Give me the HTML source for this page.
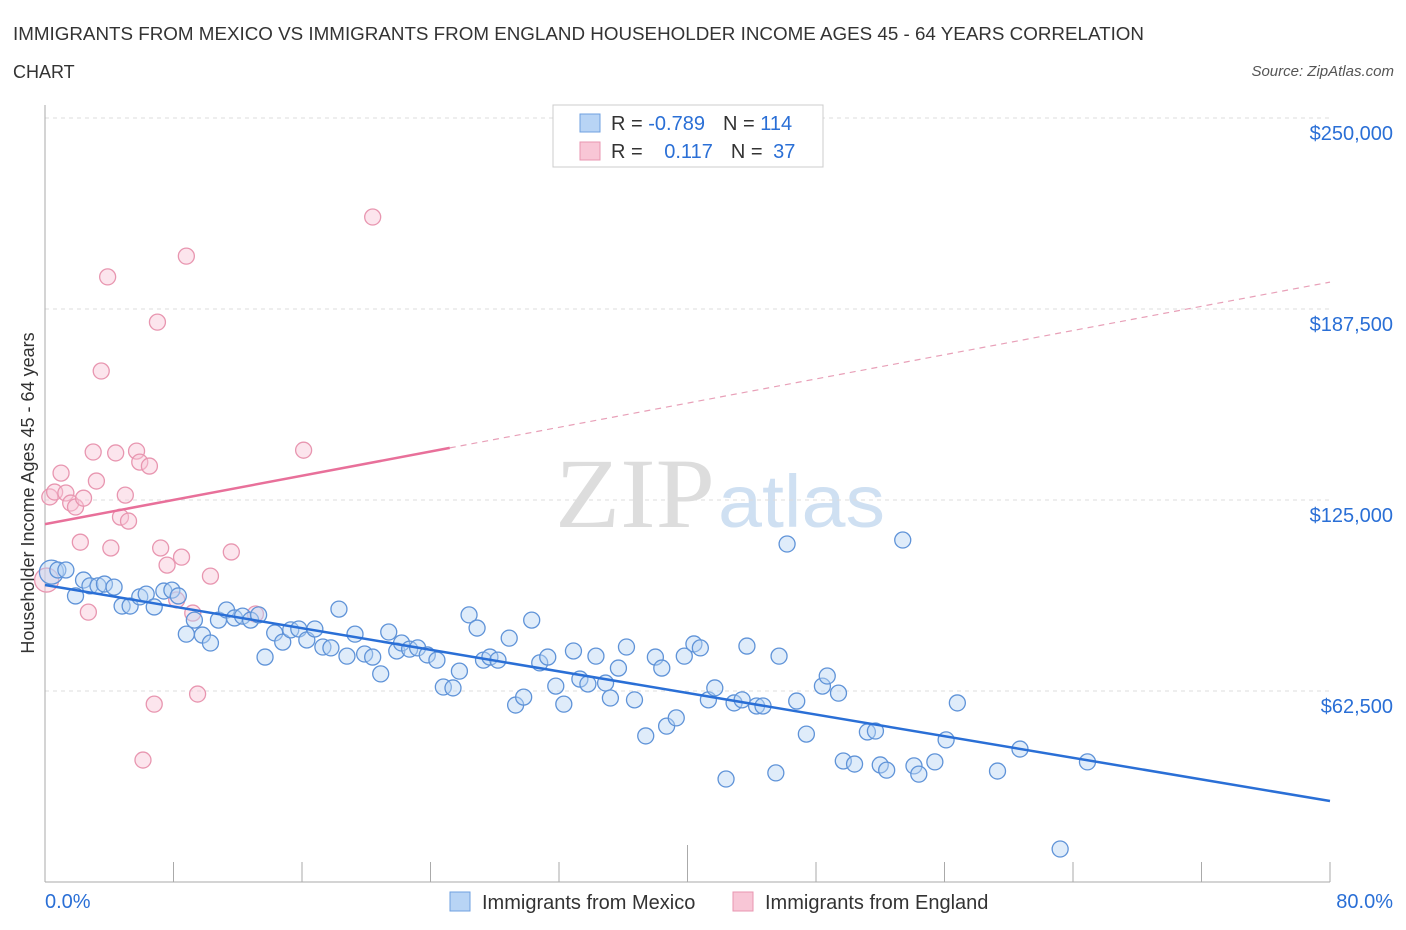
<!DOCTYPE html>
<html><head><meta charset="utf-8"><style>
body{margin:0;background:#fff;font-family:"Liberation Sans",sans-serif;}
svg{display:block}
</style></head><body>
<svg id="chart" width="1406" height="930" xmlns="http://www.w3.org/2000/svg" font-family="Liberation Sans, sans-serif">
<text x="13" y="40" font-size="18" fill="#333" textLength="1131" lengthAdjust="spacingAndGlyphs">IMMIGRANTS FROM MEXICO VS IMMIGRANTS FROM ENGLAND HOUSEHOLDER INCOME AGES 45 - 64 YEARS CORRELATION</text>
<text x="13" y="78" font-size="18" fill="#333">CHART</text>
<text x="1394" y="76" font-size="15" fill="#555" text-anchor="end" font-style="italic">Source: ZipAtlas.com</text>
<text x="715" y="527" font-size="100" fill="#ddd" text-anchor="end" font-family="Liberation Serif, serif" textLength="160" lengthAdjust="spacingAndGlyphs">ZIP</text>
<text x="718" y="527" font-size="74" fill="#cfe0f2" textLength="167" lengthAdjust="spacingAndGlyphs">atlas</text>
<g id="grid"></g>
<g id="axes"></g>
<g id="marks"></g>
<g>
<rect x="553" y="105" width="270" height="62" fill="#fff" stroke="#ccc"/>
<rect x="580" y="114" width="20" height="18" fill="#b8d4f5" stroke="#6fa0e0"/>
<rect x="580" y="142" width="20" height="18" fill="#f8c6d6" stroke="#e896b0"/>
<text x="611" y="130" font-size="20" fill="#333">R = <tspan fill="#2a6fd6">-0.789</tspan><tspan dx="18">N = </tspan><tspan fill="#2a6fd6">114</tspan></text>
<text x="611" y="158" font-size="20" fill="#333">R = <tspan dx="16" fill="#2a6fd6">0.117</tspan><tspan dx="18">N = </tspan><tspan dx="5" fill="#2a6fd6">37</tspan></text>
</g>
<g>
<rect x="450" y="892" width="20" height="19" fill="#b8d4f5" stroke="#6fa0e0"/>
<text x="482" y="909" font-size="20" fill="#333">Immigrants from Mexico</text>
<rect x="733" y="892" width="20" height="19" fill="#f8c6d6" stroke="#e896b0"/>
<text x="765" y="909" font-size="20" fill="#333">Immigrants from England</text>
</g>
</svg>
<script>
const mexX=[0.4,0.8,1.3,1.9,2.4,2.8,3.3,3.7,4.3,4.8,5.3,5.9,6.3,6.8,7.4,7.9,8.3,8.8,9.3,9.8,10.3,10.8,11.3,11.8,12.3,12.8,13.3,13.7,14.3,14.8,15.3,15.8,16.3,16.8,17.3,17.8,18.3,18.8,19.3,19.9,20.4,20.9,21.4,21.9,22.2,22.7,23.2,23.8,24.4,24.8,25.4,25.8,26.4,26.9,27.3,27.7,28.2,28.9,29.3,29.8,30.3,30.8,31.3,31.8,32.3,32.9,33.3,33.8,34.3,34.9,35.2,35.7,36.2,36.7,37.4,38.0,38.4,38.7,39.3,39.8,40.4,40.8,41.3,41.7,42.4,42.9,43.4,43.7,44.3,44.7,45.5,45.7,46.2,46.8,47.4,48.4,48.7,49.4,49.7,50.4,51.2,51.7,52.0,52.4,53.4,54.1,54.4,55.4,56.1,56.8,59.3,60.7,63.2,64.9];
const mexY=[101.4,102.1,102.1,93.6,98.8,96.9,96.9,97.5,96.5,90.3,90.3,93.3,94.2,90.0,95.2,95.5,93.6,81.1,85.7,80.8,78.2,85.7,89.0,86.4,87.0,85.7,87.4,73.6,81.5,78.5,82.5,82.8,79.2,82.8,76.9,76.6,89.3,73.9,81.1,74.6,73.6,68.1,81.8,75.6,78.2,76.2,76.6,74.3,72.6,63.8,63.5,69.0,87.4,83.1,72.6,73.6,72.6,79.8,57.9,60.5,85.7,71.7,73.6,64.1,58.2,75.6,66.4,64.8,73.9,65.1,60.2,70.0,76.9,59.6,47.8,73.6,70.0,51.0,53.7,73.9,77.9,76.6,59.6,63.5,33.7,58.6,59.6,77.2,57.6,57.6,35.7,73.9,110.6,59.2,48.4,64.1,67.4,61.8,39.6,38.6,49.1,49.4,38.3,36.6,111.9,38.0,35.3,39.3,46.5,58.6,36.3,43.5,10.8,39.3];
const engX=[0.1,0.3,0.6,1.0,1.3,1.6,1.9,2.2,2.4,2.7,3.0,3.2,3.5,3.9,4.1,4.4,4.7,5.0,5.2,5.7,5.9,6.1,6.5,6.8,7.0,7.2,7.6,8.2,8.5,8.8,9.2,9.5,10.3,11.6,13.1,16.1,20.4];
const engY=[98.8,126.0,127.6,133.8,127.3,124.0,122.7,111.2,125.6,88.3,140.7,131.2,167.2,198.0,109.3,140.4,119.4,126.6,118.1,141.0,137.4,39.9,136.1,58.2,183.2,109.3,103.7,92.3,106.3,204.8,88.0,61.5,100.1,108.0,87.7,141.3,217.6];
const mexTrend=[97.2,26.5];
const engTrend=[117.1,196.3];
const engSolidEnd=25.2;
const yTicks=[62500,125000,187500,250000];
const yTickLabels=["$62,500","$125,000","$187,500","$250,000"];
const xTicks=[0,8,16,24,32,40,48,56,64,72,80];
const NS="http://www.w3.org/2000/svg";
const xs=v=>45+v/80*1285;
const ys=v=>882-v*1000/62500*191;
function mk(tag,attrs,parent){const e=document.createElementNS(NS,tag);for(const k in attrs)e.setAttribute(k,attrs[k]);parent.appendChild(e);return e;}
const grid=document.getElementById('grid'),axes=document.getElementById('axes'),marks=document.getElementById('marks');
yTicks.forEach((t,i)=>{
 const l=mk('line',{x1:45,x2:1330,y1:ys(t/1000),y2:ys(t/1000),stroke:'#ddd','stroke-dasharray':'4,4'},grid);
 
 
 const tx=mk('text',{x:1393,y:ys(t/1000)+22,'font-size':20,fill:'#2a6fd6','text-anchor':'end'},grid);
 tx.textContent=yTickLabels[i];
 
 
});
const ya=mk('line',{x1:45,x2:45,y1:105,y2:882,stroke:'#aaa'},axes);


const xa=mk('line',{x1:45,x2:1330,y1:882,y2:882,stroke:'#aaa'},axes);


xTicks.forEach(t=>{
 const l=mk('line',{x1:xs(t),x2:xs(t),y1:t===40?845:862,y2:882,stroke:'#aaa'},axes);
 
 
});
const xl0=mk('text',{x:45,y:908,'font-size':20,fill:'#2a6fd6'},axes);xl0.textContent='0.0%';


const xl1=mk('text',{x:1393,y:908,'font-size':20,fill:'#2a6fd6','text-anchor':'end'},axes);xl1.textContent='80.0%';


const yt=mk('text',{x:0,y:0,'font-size':18,fill:'#333','text-anchor':'middle',transform:'translate(34,493) rotate(-90)'},axes);yt.textContent='Householder Income Ages 45 - 64 years';


engX.forEach((x,i)=>{
 const c=mk('circle',{cx:xs(x),cy:ys(engY[i]),r:i===0?12:8,fill:'rgba(248,198,214,0.45)',stroke:'#e896b0','stroke-width':1.3},marks);
 
 
});
mexX.forEach((x,i)=>{
 const c=mk('circle',{cx:xs(x),cy:ys(mexY[i]),r:i===0?12:8,fill:'rgba(184,212,245,0.45)',stroke:'#5f93d8','stroke-width':1.3},marks);
 
 
});
const ey=x=>engTrend[0]+(engTrend[1]-engTrend[0])*x/80;
const l1=mk('line',{x1:xs(0),y1:ys(ey(0)),x2:xs(engSolidEnd),y2:ys(ey(engSolidEnd)),stroke:'#e8709a','stroke-width':2.5},marks);


const l2=mk('line',{x1:xs(engSolidEnd),y1:ys(ey(engSolidEnd)),x2:xs(80),y2:ys(ey(80)),stroke:'#e8a0b8','stroke-width':1.2,'stroke-dasharray':'6,5'},marks);


const l3=mk('line',{x1:xs(0),y1:ys(mexTrend[0]),x2:xs(80),y2:ys(mexTrend[1]),stroke:'#2a6fd6','stroke-width':2.5},marks);


</script>
</body></html>
